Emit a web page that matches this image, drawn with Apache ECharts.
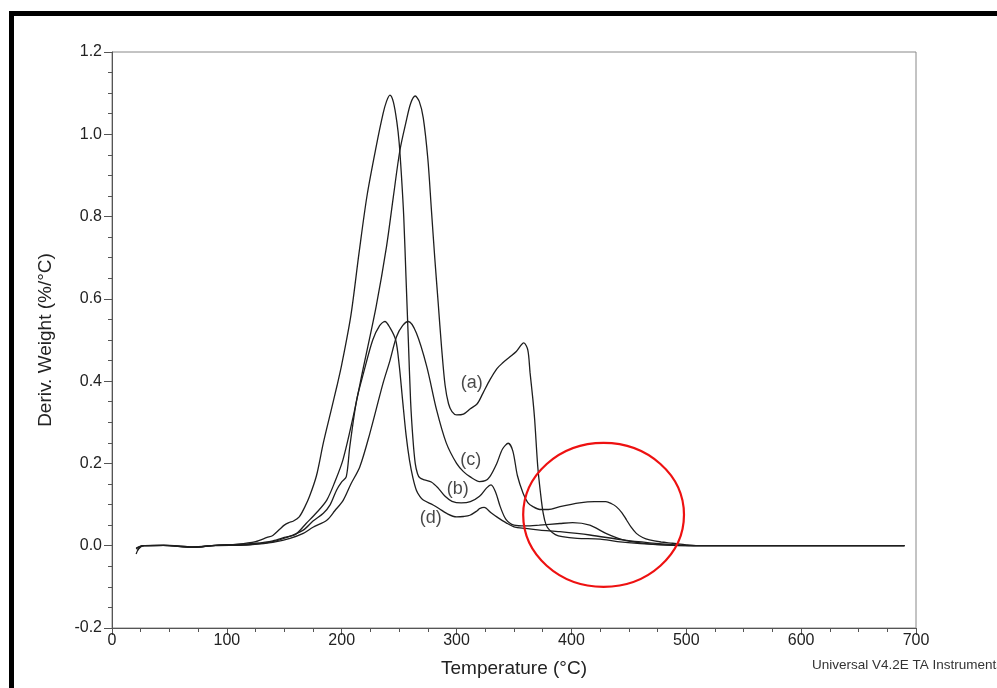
<!DOCTYPE html>
<html>
<head>
<meta charset="utf-8">
<script src="https://cdn.jsdelivr.net/npm/echarts@6/dist/echarts.min.js"></script>
<style>
  html, body { margin: 0; padding: 0; background: #fff; }
  #chart { width: 997px; height: 688px; }
</style>
</head>
<body>
<div id="chart"></div>
<script>
// DTG curves: derivative weight loss (%/°C) against temperature (°C)
const tempA = [21, 24, 28, 45, 70, 90, 110, 125, 140, 150, 160, 169, 178, 187, 194, 201, 210, 219, 230, 239, 245, 250.6, 256, 260, 264, 267.5, 271, 275, 278, 281, 284, 287, 290, 293, 296, 300, 306, 312, 318, 323, 329, 335, 340, 346, 352, 358.5, 362, 364, 366.5, 368, 370.7, 373, 375.4, 378, 381, 386, 392, 405, 425, 440, 460, 480, 500, 600, 690];
const derivA = [-0.008, -0.002, 0, 0.001, -0.003, 0.001, 0.003, 0.006, 0.012, 0.02, 0.028, 0.054, 0.08, 0.111, 0.155, 0.208, 0.314, 0.435, 0.582, 0.727, 0.849, 0.96, 1.03, 1.075, 1.093, 1.08, 1.04, 0.94, 0.82, 0.7, 0.59, 0.48, 0.39, 0.345, 0.326, 0.318, 0.32, 0.333, 0.345, 0.371, 0.403, 0.43, 0.444, 0.458, 0.472, 0.493, 0.476, 0.42, 0.354, 0.306, 0.192, 0.13, 0.079, 0.05, 0.038, 0.027, 0.022, 0.018, 0.016, 0.01, 0.005, 0.002, 0, 0, 0];

const tempB = [21, 24, 28, 50, 70, 90, 110, 125, 135, 140, 146, 150, 154, 158, 163, 168, 172, 178, 184, 190, 196, 200, 208, 215, 222, 230, 236, 239, 242, 245, 248, 250, 252, 254, 256, 258, 260, 262, 264, 266, 268, 272, 278, 284, 290, 296, 304, 312, 320, 326, 330, 334, 338, 343, 350, 360, 372, 390, 401, 416, 430, 445, 460, 480, 500, 600, 690];
const derivB = [-0.02, -0.004, 0, 0.001, -0.003, 0.001, 0.004, 0.01, 0.02, 0.025, 0.04, 0.05, 0.056, 0.06, 0.07, 0.095, 0.12, 0.17, 0.25, 0.32, 0.39, 0.44, 0.56, 0.71, 0.85, 0.97, 1.05, 1.08, 1.095, 1.078, 1.03, 0.98, 0.9, 0.8, 0.65, 0.5, 0.35, 0.26, 0.2, 0.175, 0.165, 0.16, 0.155, 0.14, 0.12, 0.108, 0.104, 0.107, 0.12, 0.14, 0.148, 0.13, 0.095, 0.064, 0.05, 0.048, 0.05, 0.054, 0.056, 0.05, 0.03, 0.014, 0.007, 0.002, 0, 0, 0];

const tempC = [22, 25, 28, 45, 70, 90, 110, 120, 140, 155, 166.5, 175, 187, 194, 201.4, 208, 215.8, 224.5, 236, 242, 247.7, 253, 258, 265, 274, 282.6, 291, 300, 306, 311.6, 320, 325, 329, 335, 340, 345, 349, 353, 358, 362, 366.5, 372.5, 380, 390, 407, 420, 430, 435, 439, 444, 448, 452, 456.5, 462, 468, 478, 488, 500, 510, 600, 690];
const derivC = [-0.012, -0.003, 0, 0.001, -0.004, 0, 0.001, 0.002, 0.008, 0.018, 0.03, 0.045, 0.062, 0.085, 0.111, 0.15, 0.192, 0.273, 0.395, 0.45, 0.508, 0.535, 0.545, 0.517, 0.436, 0.33, 0.25, 0.2, 0.18, 0.168, 0.156, 0.158, 0.168, 0.2, 0.235, 0.249, 0.23, 0.17, 0.127, 0.105, 0.095, 0.088, 0.088, 0.095, 0.104, 0.107, 0.107, 0.102, 0.095, 0.08, 0.0625, 0.045, 0.03, 0.02, 0.014, 0.009, 0.006, 0.002, 0, 0, 0];

const tempD = [21, 24, 28, 45, 70, 90, 110, 120, 140, 152, 166.5, 175, 184, 190, 195.5, 200, 204, 207, 213, 219, 227, 233, 237.6, 242, 247, 250, 253, 256, 259, 262, 265, 268, 271, 279.6, 285, 291, 300, 306, 311.6, 318, 320, 324, 330, 335, 343.5, 350, 360, 372.5, 390, 416, 445, 468, 490, 505, 600, 690];
const derivD = [-0.006, -0.002, 0, 0.001, -0.004, 0.001, 0.002, 0.003, 0.01, 0.02, 0.038, 0.06, 0.079, 0.1, 0.135, 0.155, 0.168, 0.24, 0.354, 0.42, 0.5, 0.535, 0.545, 0.53, 0.5, 0.44, 0.354, 0.27, 0.208, 0.165, 0.135, 0.12, 0.111, 0.099, 0.09, 0.079, 0.07, 0.071, 0.074, 0.085, 0.09, 0.093, 0.08, 0.07, 0.055, 0.046, 0.042, 0.038, 0.034, 0.026, 0.014, 0.007, 0.002, 0, 0, 0];

// curve tags and where they sit (temperature, deriv. weight)
const curveTags = ['(a)', '(b)', '(c)', '(d)'];
const tagTemp = [313.3, 301, 312.4, 277.6];
const tagDeriv = [0.396, 0.138, 0.208, 0.067];

// axis ranges
const xMin = 0, xMax = 700, xStep = 100;
const yMin = -0.2, yMax = 1.2, yStep = 0.2;

// highlighted high-temperature region (data units)
const ringTemp = 428, ringDeriv = 0.075, ringHalfT = 70, ringHalfD = 0.175;

function pairs(t, v) { return t.map((x, i) => [x, v[i]]); }

const lineStyle = { color: '#1e1e1e', width: 1.3 };
const curveSeries = [[tempA, derivA], [tempB, derivB], [tempC, derivC], [tempD, derivD]].map(([t, v]) => ({
  type: 'line',
  data: pairs(t, v),
  showSymbol: false,
  smooth: 0.3,
  lineStyle: lineStyle,
  silent: true,
  z: 3
}));

const chart = echarts.init(document.getElementById('chart'), null, { renderer: 'canvas' });

const axisFont = 'Liberation Sans, Arial, sans-serif';
chart.setOption({
  animation: false,
  backgroundColor: '#ffffff',
  grid: { left: 112, right: 81, top: 52, bottom: 60, show: true, borderColor: '#888', borderWidth: 1, backgroundColor: 'transparent' },
  xAxis: {
    type: 'value', min: xMin, max: xMax, interval: xStep,
    name: 'Temperature (°C)', nameLocation: 'middle', nameGap: 31,
    nameTextStyle: { fontFamily: axisFont, fontSize: 19, color: '#222' },
    axisLine: { onZero: false, lineStyle: { color: '#555', width: 1 } },
    axisTick: { show: true, length: 7, lineStyle: { color: '#555' } },
    minorTick: { show: true, splitNumber: 4, length: 4, lineStyle: { color: '#555' } },
    splitLine: { show: false },
    axisLabel: { fontFamily: axisFont, fontSize: 16, color: '#222', margin: 5 }
  },
  yAxis: {
    type: 'value', min: yMin, max: yMax, interval: yStep,
    name: 'Deriv. Weight (%/°C)', nameLocation: 'middle', nameGap: 57, nameRotate: 90,
    nameTextStyle: { fontFamily: axisFont, fontSize: 19, color: '#222' },
    axisLine: { show: true, onZero: false, lineStyle: { color: '#555', width: 1 } },
    axisTick: { show: true, length: 8, lineStyle: { color: '#555' } },
    minorTick: { show: true, splitNumber: 4, length: 4, lineStyle: { color: '#555' } },
    splitLine: { show: false },
    axisLabel: { fontFamily: axisFont, fontSize: 16, color: '#222', margin: 10, formatter: v => v.toFixed(1) }
  },
  series: curveSeries.concat([{
    type: 'scatter',
    symbolSize: 0,
    silent: true,
    data: curveTags.map((n, i) => ({ name: n, value: [tagTemp[i], tagDeriv[i]] })),
    label: {
      show: true, position: 'inside', formatter: p => p.name,
      fontFamily: axisFont, fontSize: 18, color: '#1a1a1a'
    },
    z: 4
  }])
});

// frame, highlight ring and footer text
const c = chart.convertToPixel({ gridIndex: 0 }, [ringTemp, ringDeriv]);
const e = chart.convertToPixel({ gridIndex: 0 }, [ringTemp + ringHalfT, ringDeriv + ringHalfD]);
chart.setOption({
  graphic: [
    { type: 'rect', shape: { x: 9, y: 11, width: 988, height: 5 }, style: { fill: '#000' }, silent: true },
    { type: 'rect', shape: { x: 9, y: 11, width: 5, height: 677 }, style: { fill: '#000' }, silent: true },
    {
      type: 'ellipse', z: 10, silent: true,
      shape: { cx: c[0], cy: c[1], rx: e[0] - c[0], ry: c[1] - e[1] },
      style: { fill: 'none', stroke: '#ee1111', lineWidth: 2.2 }
    },
    {
      type: 'text', left: 812, top: 658, silent: true,
      style: { text: 'Universal V4.2E TA Instruments', fontFamily: axisFont, fontSize: 13.5, fill: '#333' }
    }
  ]
});
</script>
</body>
</html>
